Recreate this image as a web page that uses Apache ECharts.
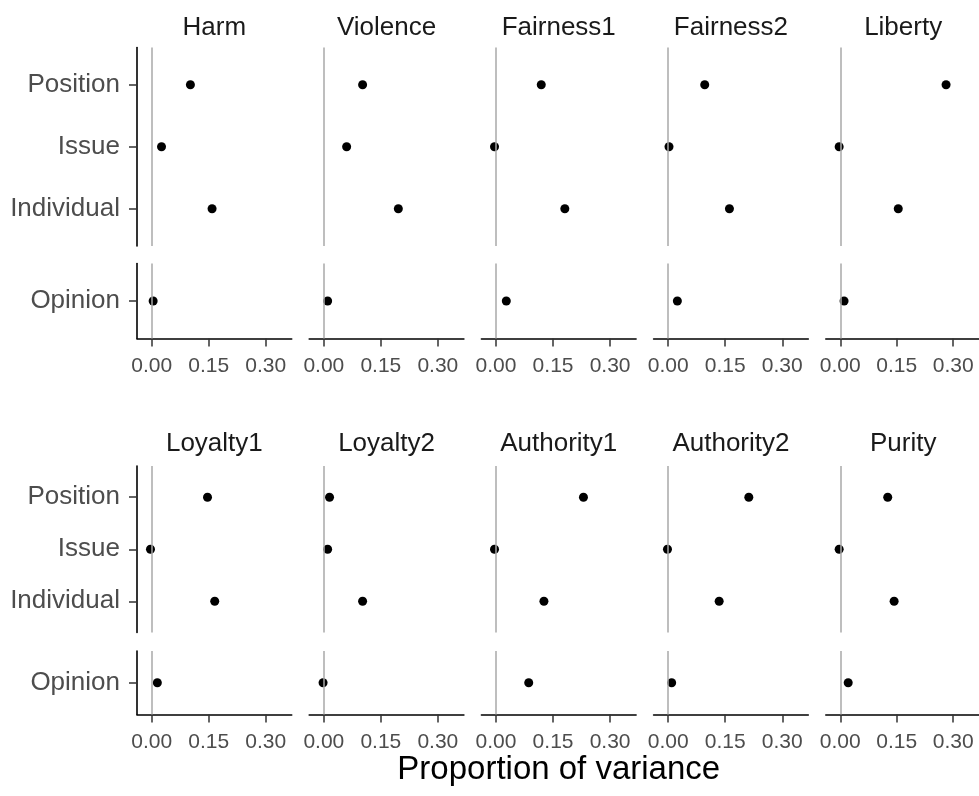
<!DOCTYPE html>
<html>
<head>
<meta charset="utf-8">
<script src="https://cdn.jsdelivr.net/npm/echarts@6/dist/echarts.min.js"></script>
<style>
html,body{margin:0;padding:0;background:#fff;}
#chart{width:979px;height:796px;}
</style>
</head>
<body>
<div id="chart"></div>
<script>
// ---- data ----
const facets = ['Harm','Violence','Fairness1','Fairness2','Liberty','Loyalty1','Loyalty2','Authority1','Authority2','Purity'];
const topCategories = ['Position','Issue','Individual'];
const bottomCategories = ['Opinion'];
const positionValues   = [0.102, 0.102, 0.119, 0.096, 0.281, 0.147, 0.015, 0.230, 0.212, 0.126];
const issueValues      = [0.026, 0.060, -0.004, 0.002, -0.003, -0.003, 0.010, -0.004, -0.002, -0.003];
const individualValues = [0.159, 0.196, 0.181, 0.161, 0.154, 0.166, 0.102, 0.126, 0.134, 0.143];
const opinionValues    = [0.004, 0.010, 0.027, 0.024, 0.010, 0.015, -0.002, 0.086, 0.009, 0.021];
const xTicks = [0, 0.15, 0.30];
const xTitle = 'Proportion of variance';

// ---- layout ----
const FONT = '"Liberation Sans", Arial, sans-serif';
const colLeft0 = 137, colPitch = 172.2, colWidth = 154.7;
const rows = [
  {topTop: 47.5, topBottom: 246, botTop: 263.5, botBottom: 338.5, titleY: 28},
  {topTop: 466, topBottom: 632.5, botTop: 651, botBottom: 714.5, titleY: 444}
];
const xMin = -0.0385, xMax = 0.3685;

const grids = [], xAxes = [], yAxes = [], series = [], graphics = [];
const topVals = [positionValues, issueValues, individualValues];

facets.forEach((name, f) => {
  const r = Math.floor(f / 5), c = f % 5;
  const row = rows[r];
  const left = colLeft0 + c * colPitch;
  graphics.push({
    type: 'text', x: left + colWidth / 2, y: row.titleY,
    style: {text: name, font: '26px ' + FONT, fill: '#1a1a1a', textAlign: 'center', textVerticalAlign: 'middle'}
  });
  [0, 1].forEach(sub => {
    const gi = grids.length;
    const isBottom = sub === 1;
    const top = isBottom ? row.botTop : row.topTop;
    const bottom = isBottom ? row.botBottom : row.topBottom;
    const cats = isBottom ? bottomCategories : topCategories;
    grids.push({left: left, top: top, width: colWidth, height: bottom - top, containLabel: false});
    xAxes.push({
      type: 'value', gridIndex: gi, min: xMin, max: xMax,
      splitLine: {show: false},
      axisLine: {show: isBottom, onZero: false, lineStyle: {color: '#000', width: 1.6}},
      axisTick: {show: isBottom, customValues: xTicks, length: 8, lineStyle: {color: '#333', width: 1.5}},
      axisLabel: {show: isBottom, customValues: xTicks, margin: 17, color: '#4d4d4d',
                  fontSize: 21, fontFamily: FONT, formatter: v => v.toFixed(2)}
    });
    const idx = cats.map((_, i) => i + 1);
    yAxes.push({
      type: 'value', gridIndex: gi, inverse: true, min: 0.4, max: cats.length + 0.6,
      splitLine: {show: false},
      axisLine: {show: c === 0, onZero: false, lineStyle: {color: '#000', width: 1.6}},
      axisTick: {show: c === 0, customValues: idx, length: 8, lineStyle: {color: '#333', width: 1.5}},
      axisLabel: {show: c === 0, customValues: idx, margin: 17, color: '#4d4d4d',
                  fontSize: 26, fontFamily: FONT, formatter: v => cats[Math.round(v) - 1] || ''}
    });
    const data = isBottom
      ? [[opinionValues[f], 1]]
      : topVals.map((arr, i) => [arr[f], i + 1]);
    series.push({
      type: 'scatter', xAxisIndex: gi, yAxisIndex: gi, data: data,
      symbol: 'circle', symbolSize: 9, itemStyle: {color: '#000', opacity: 1}, silent: true,
      markLine: {
        silent: true, symbol: 'none', z: 5,
        label: {show: false},
        lineStyle: {color: '#a8a8a8', width: 1.5, type: 'solid', opacity: 1},
        data: [{xAxis: 0}]
      }
    });
  });
});

graphics.push({
  type: 'text', x: (colLeft0 + colLeft0 + 4 * colPitch + colWidth) / 2, y: 770,
  style: {text: xTitle, font: '33px ' + FONT, fill: '#000', textAlign: 'center', textVerticalAlign: 'middle'}
});

const chart = echarts.init(document.getElementById('chart'), null, {renderer: 'canvas'});
chart.setOption({
  backgroundColor: '#fff',
  animation: false,
  grid: grids, xAxis: xAxes, yAxis: yAxes, series: series,
  graphic: graphics
});
</script>
</body>
</html>
